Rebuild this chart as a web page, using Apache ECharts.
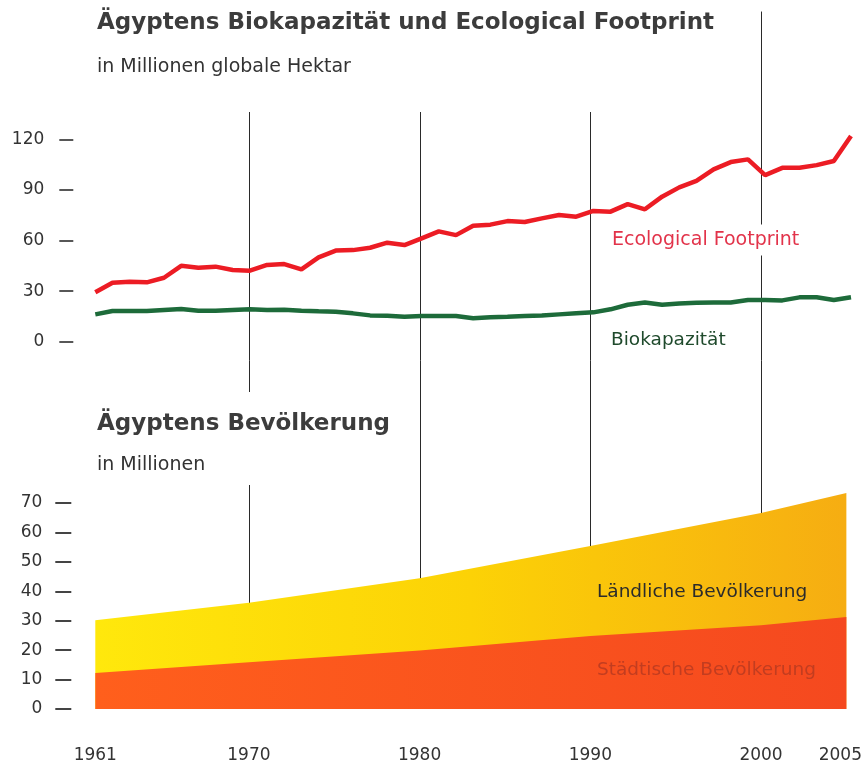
<!DOCTYPE html>
<html>
<head>
<meta charset="utf-8">
<title>Ägyptens Biokapazität und Bevölkerung</title>
<script src="https://cdn.jsdelivr.net/npm/echarts@6/dist/echarts.min.js"></script>
<style>
  html, body { margin: 0; padding: 0; background: #fff; }
  #chart { width: 865px; height: 773px; }
</style>
</head>
<body>
<div id="chart"></div>
<script>
// Jahre des Footprint-Diagramms
var years = [
  1961, 1962, 1963, 1964, 1965, 1966, 1967, 1968, 1969, 1970,
  1971, 1972, 1973, 1974, 1975, 1976, 1977, 1978, 1979, 1980,
  1981, 1982, 1983, 1984, 1985, 1986, 1987, 1988, 1989, 1990,
  1991, 1992, 1993, 1994, 1995, 1996, 1997, 1998, 1999, 2000,
  2001, 2002, 2003, 2004, 2005
];
// Mio. globale Hektar
var footprint = [
  29.3, 35.0, 35.6, 35.2, 37.9, 45.0, 43.9, 44.5, 42.5, 42.1,
  45.5, 46.0, 42.9, 50.0, 54.0, 54.3, 55.7, 58.7, 57.3, 61.3,
  65.4, 63.2, 68.8, 69.4, 71.5, 71.0, 73.1, 75.1, 74.1, 77.5,
  77.1, 81.6, 78.5, 86.0, 91.5, 95.4, 102.2, 106.5, 108.1, 98.8,
  103.1, 103.1, 104.7, 107.1, 121.9
];
var biocapacity = [
  16.2, 18.2, 18.2, 18.2, 18.8, 19.4, 18.4, 18.4, 18.8, 19.2,
  18.8, 19.0, 18.4, 18.0, 17.8, 16.8, 15.6, 15.4, 14.8, 15.2,
  15.2, 15.2, 13.9, 14.5, 14.8, 15.2, 15.6, 16.2, 16.8, 17.4,
  19.2, 21.9, 23.3, 21.9, 22.7, 23.1, 23.3, 23.3, 24.7, 24.7,
  24.5, 26.3, 26.3, 24.7, 26.3
];
// Bevölkerung in Millionen
var popYears = [1961, 1970, 1980, 1990, 2000, 2005];
var urbanPop = [12.2, 15.9, 19.9, 24.8, 28.5, 31.3];
var ruralPop = [18.0, 20.2, 24.5, 30.6, 38.1, 42.1];

var axisYears = [1961, 1970, 1980, 1990, 2000, 2005];
var refYears = [1970, 1980, 1990, 2000];
var refTop = 237; // obere Kante der Jahrzehnt-Linien (in Mio.)

// ländlich liegt auf städtisch -> Gesamtkurve als Oberkante der gelben Fläche
var totalPop = urbanPop.map(function (u, i) { return u + ruralPop[i]; });

function pairs(xs, ys) {
  return xs.map(function (x, i) { return [x, ys[i]]; });
}

var FONT = 'DejaVu Sans';
var myChart = echarts.init(document.getElementById('chart'));

var option = {
  backgroundColor: '#fff',
  animation: false,
  textStyle: { fontFamily: FONT },
  title: [
    {
      text: 'Ägyptens Biokapazität und Ecological Footprint',
      subtext: 'in Millionen globale Hektar',
      left: 87,
      top: 0,
      padding: [12, 10, 35, 10],
      itemGap: 23,
      backgroundColor: '#fff',
      textStyle: { fontFamily: FONT, fontWeight: 'bold', fontSize: 23, color: '#3c3c3c' },
      subtextStyle: { fontFamily: FONT, fontSize: 19, color: '#333' }
    },
    {
      text: 'Ägyptens Bevölkerung',
      subtext: 'in Millionen',
      left: 87,
      top: 392,
      padding: [20.5, 10, 10.5, 10],
      itemGap: 20,
      backgroundColor: '#fff',
      textStyle: { fontFamily: FONT, fontWeight: 'bold', fontSize: 23, color: '#3c3c3c' },
      subtextStyle: { fontFamily: FONT, fontSize: 19, color: '#333' }
    }
  ],
  grid: [
    { left: 95.3, right: 14, top: 139.3, bottom: 431.3 },
    { left: 95.3, right: 14, top: 503, bottom: 64 }
  ],
  xAxis: [
    { gridIndex: 0, type: 'value', min: 1961, max: 2005, show: false },
    {
      gridIndex: 1, type: 'value', min: 1961, max: 2005,
      axisLine: { show: false },
      axisTick: { show: false },
      splitLine: { show: false },
      axisLabel: {
        customValues: axisYears,
        margin: 38,
        fontFamily: FONT,
        fontSize: 17,
        color: '#333',
        formatter: function (v) {
          return v === 2005 ? '{r|2005}' : String(v);
        },
        rich: { r: { fontFamily: FONT, fontSize: 17, color: '#333', padding: [0, 12, 0, 0] } }
      }
    }
  ],
  yAxis: [
    {
      gridIndex: 0, type: 'value', min: 0, max: 120, interval: 30,
      offset: 22,
      axisLine: { show: false },
      axisTick: { show: true, length: 14, lineStyle: { color: '#444', width: 1.8 } },
      splitLine: { show: false },
      axisLabel: { margin: 29, fontFamily: FONT, fontSize: 17, color: '#333' }
    },
    {
      gridIndex: 1, type: 'value', min: 0, max: 70, interval: 10,
      offset: 24,
      axisLine: { show: false },
      axisTick: { show: true, length: 16, lineStyle: { color: '#444', width: 2 } },
      splitLine: { show: false },
      axisLabel: { margin: 29, fontFamily: FONT, fontSize: 17, color: '#333' }
    }
  ],
  graphic: [
    {
      type: 'text', x: 610, y: 240, z: 100,
      style: {
        text: 'Ecological Footprint', fill: '#e2334a', font: '19px "DejaVu Sans"',
        verticalAlign: 'middle', backgroundColor: '#fff', padding: [6, 2]
      }
    },
    {
      type: 'text', x: 611, y: 340, z: 100,
      style: { text: 'Biokapazität', fill: '#1f4a2c', font: '18.5px "DejaVu Sans"', verticalAlign: 'middle' }
    },
    {
      type: 'text', x: 597, y: 592, z: 100,
      style: { text: 'Ländliche Bevölkerung', fill: '#2b2b2b', font: '18.5px "DejaVu Sans"', verticalAlign: 'middle' }
    },
    {
      type: 'text', x: 597, y: 670, z: 100,
      style: { text: 'Städtische Bevölkerung', fill: '#c23d20', font: '18.5px "DejaVu Sans"', verticalAlign: 'middle' }
    }
  ],
  series: [
    {
      name: 'Jahrzehnte',
      type: 'custom',
      xAxisIndex: 1,
      yAxisIndex: 1,
      z: 1,
      clip: false,
      silent: true,
      data: refYears.map(function (y) { return [y, 0]; }),
      renderItem: function (params, api) {
        var p0 = api.coord([api.value(0), 0]);
        var p1 = api.coord([api.value(0), refTop]);
        var x = Math.round(p0[0]) + 0.5;
        return {
          type: 'line',
          shape: { x1: x, y1: p0[1], x2: x, y2: p1[1] },
          style: { stroke: '#2a2a2a', lineWidth: 1 }
        };
      }
    },
    {
      name: 'Biokapazität',
      type: 'line',
      xAxisIndex: 0,
      yAxisIndex: 0,
      z: 3,
      clip: false,
      symbol: 'none',
      lineStyle: { color: '#1d6b3a', width: 4.5 },
      data: pairs(years, biocapacity)
    },
    {
      name: 'Ecological Footprint',
      type: 'line',
      xAxisIndex: 0,
      yAxisIndex: 0,
      z: 3,
      clip: false,
      symbol: 'none',
      lineStyle: { color: '#ec1c24', width: 4.5 },
      data: pairs(years, footprint)
    },
    {
      name: 'Ländliche Bevölkerung',
      type: 'line',
      xAxisIndex: 1,
      yAxisIndex: 1,
      z: 2,
      clip: false,
      symbol: 'none',
      lineStyle: { width: 0 },
      areaStyle: {
        opacity: 1,
        color: new echarts.graphic.LinearGradient(0, 0, 1, 0, [
          { offset: 0, color: '#ffe80c' },
          { offset: 0.5, color: '#fcd206' },
          { offset: 1, color: '#f6ad12' }
        ])
      },
      data: pairs(popYears, totalPop)
    },
    {
      name: 'Städtische Bevölkerung',
      type: 'line',
      xAxisIndex: 1,
      yAxisIndex: 1,
      z: 2,
      clip: false,
      symbol: 'none',
      lineStyle: { width: 0 },
      areaStyle: {
        opacity: 1,
        color: new echarts.graphic.LinearGradient(0, 0, 1, 0, [
          { offset: 0, color: '#ff5f1c' },
          { offset: 1, color: '#f5491f' }
        ])
      },
      data: pairs(popYears, urbanPop)
    }
  ]
};

option && myChart.setOption(option);
window.addEventListener('resize', function () {
  myChart.resize();
});
</script>
</body>
</html>
